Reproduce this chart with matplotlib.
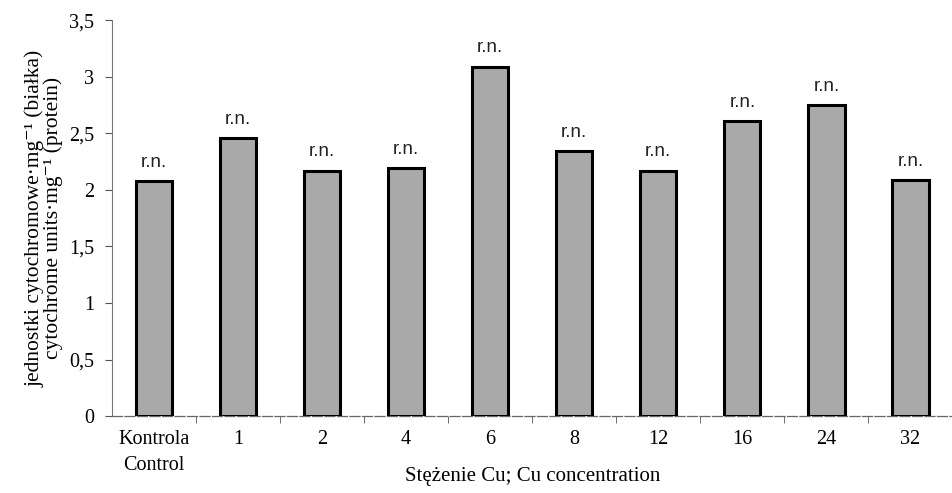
import numpy as np
import matplotlib
matplotlib.use('Agg')
import matplotlib.pyplot as plt

# data
categories = ['Kontrola\nControl', '1', '2', '4', '6', '8', '12', '16', '24', '32']
values = [2.08, 2.46, 2.17, 2.19, 3.09, 2.34, 2.17, 2.61, 2.75, 2.09]
annotations = ['r.n.'] * 10
yticks = [0, 0.5, 1, 1.5, 2, 2.5, 3, 3.5]
ytick_labels = ['0', '0,5', '1', '1,5', '2', '2,5', '3', '3,5']

serif = ['Liberation Serif', 'DejaVu Serif']

fig = plt.figure(figsize=(9.53, 4.93), dpi=100)
ax = fig.add_axes([0.1175, 0.156, 0.882, 0.803])

x = np.arange(len(values))
ax.bar(x, values, width=0.43, color='#a9a9a9', edgecolor='black', linewidth=2.2, zorder=3)

for xi, v, t in zip(x, values, annotations):
    ax.text(xi, v + 0.09, t, ha='center', va='bottom', fontsize=13.5,
            family='Liberation Sans', color='#222222')

ax.set_xlim(-0.5, len(values) - 0.5)
ax.set_ylim(0, 3.5)

ax.set_yticks(yticks)
ax.set_yticklabels(ytick_labels, family=serif, fontsize=14.5)
ax.set_xticks(x)
ax.set_xticklabels(categories, family=serif, fontsize=14.5, linespacing=1.5)
ax.tick_params(axis='x', length=0, pad=10)
ax.set_xticks(np.arange(len(values)) + 0.5, minor=True)
ax.tick_params(axis='x', which='minor', length=5, color='#555555', direction='out')
ax.tick_params(axis='y', length=5, color='#555555', direction='out', pad=8)

for s in ['top', 'right']:
    ax.spines[s].set_visible(False)
ax.spines['left'].set_color('#777777')
ax.spines['left'].set_linewidth(0.8)
ax.spines['bottom'].set_color('#666666')
ax.spines['bottom'].set_linewidth(0.9)
ax.spines['bottom'].set_linestyle((0, (8, 2)))

ax.set_xlabel('Stężenie Cu; Cu concentration', family=serif, fontsize=15, labelpad=-6)
ax.set_ylabel('jednostki cytochromowe·mg⁻¹ (białka)\ncytochrome units·mg⁻¹ (protein)',
              family=serif, fontsize=15.5, labelpad=4, linespacing=0.95)

fig.savefig('out.png', dpi=100)
